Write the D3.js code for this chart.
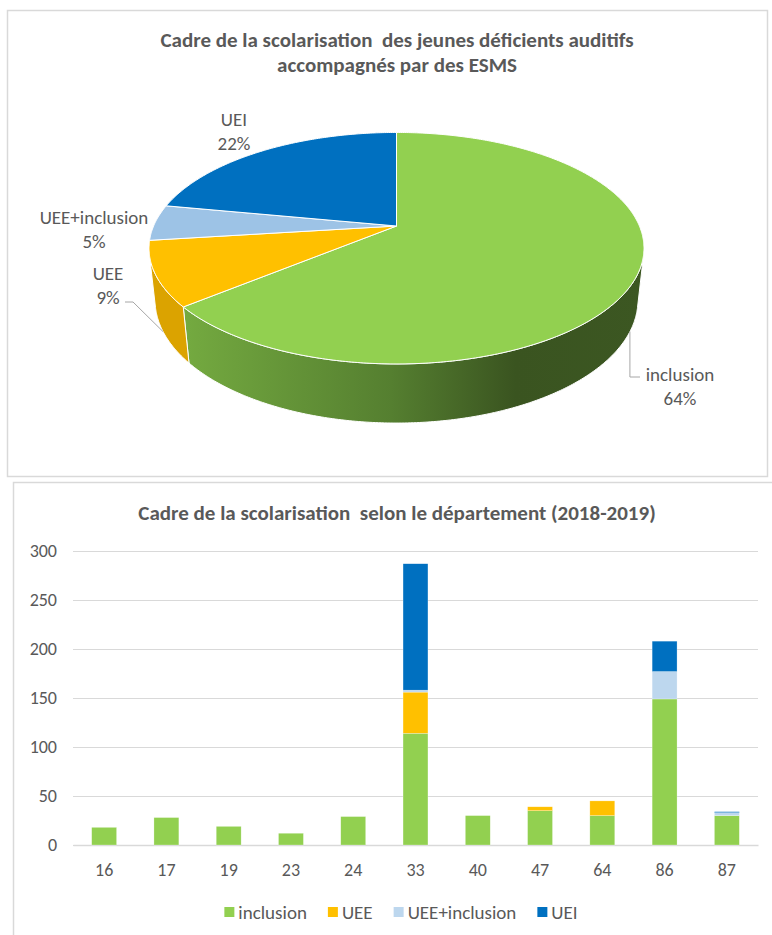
<!DOCTYPE html>
<html>
<head>
<meta charset="utf-8">
<script src="https://cdn.jsdelivr.net/npm/d3@7"></script>
<style>
  body { margin: 0; background: #fff; }
  svg text { font-family: Carlito, "Liberation Sans Narrow", "Arial Narrow", "Liberation Sans", sans-serif; fill: #595959; white-space: pre; }
</style>
</head>
<body>
<svg id="chart" width="772" height="935"></svg>
<script>
// pie data (share in %)
const pieLabels = ["inclusion", "UEE", "UEE+inclusion", "UEI"];
const pieValues = [64, 9, 5, 22];
const pieColors = ["#92D050", "#FFC000", "#9DC3E6", "#0070C0"];

// bar data per departement
const departements = ["16", "17", "19", "23", "24", "33", "40", "47", "64", "86", "87"];
const inclusion = [18, 28, 19, 12, 29, 114, 30, 35, 30, 149, 30];
const uee = [0, 0, 0, 0, 0, 42, 0, 4, 15, 0, 0];
const ueeInclusion = [0, 0, 0, 0, 0, 2, 0, 0, 0, 28, 3];
const uei = [0, 0, 0, 0, 0, 129, 0, 0, 0, 31, 1];
const yTicks = [0, 50, 100, 150, 200, 250, 300];

const seriesKeys = ["inclusion", "UEE", "UEE+inclusion", "UEI"];
const barColors = ["#92D050", "#FFC000", "#BDD7EE", "#0070C0"];

const svg = d3.select('#chart');

// chart frames
svg.append('rect').attr('x', 7.5).attr('y', 10.5).attr('width', 760).attr('height', 466)
  .attr('fill', 'none').attr('stroke', '#D9D9D9').attr('stroke-width', 1.5);
svg.append('rect').attr('x', 13.5).attr('y', 482.5).attr('width', 780).attr('height', 470)
  .attr('fill', 'none').attr('stroke', '#D9D9D9').attr('stroke-width', 1.5);

// ---------- 3D pie ----------
const sinA = 0.459, cosA = 0.888;   // tilt of the pie
const R = 0.216, H = 0.0526, F = 1124.5;
const pcx = 396.5, pcy = 226;

function project(theta, y) {
  const X = R * Math.sin(theta), Z = R * Math.cos(theta);
  const yc = y * cosA + Z * sinA;
  const depth = 1 + Z * cosA - y * sinA;
  return [pcx + F * X / depth, pcy - F * yc / depth];
}
function arcPts(a0, a1, y) {
  const n = Math.max(2, Math.ceil((a1 - a0) / 0.01));
  return d3.range(n + 1).map(i => project(a0 + (a1 - a0) * i / n, y));
}

const arcs = d3.pie().sort(null).value(d => d)(pieValues);
const pie = svg.append('g');

const defs = svg.append('defs');
const grad = defs.append('linearGradient').attr('id', 'sideGreen')
  .attr('gradientUnits', 'userSpaceOnUse').attr('x1', 183).attr('x2', 645).attr('y1', 0).attr('y2', 0);
[[0, '#74AA40'], [0.45, '#557F30'], [0.72, '#3A5420'], [1, '#3C5722']].forEach(s =>
  grad.append('stop').attr('offset', s[0]).attr('stop-color', s[1]));
const sideFill = ['url(#sideGreen)', '#DBA300', '#7FA3C4', '#00589A'];

// visible part of the outer wall
const vis0 = Math.acos(-R / cosA), vis1 = 2 * Math.PI - vis0;
arcs.forEach((a, i) => {
  const s = Math.max(a.startAngle, vis0), e = Math.min(a.endAngle, vis1);
  if (e <= s) return;
  const pts = arcPts(s, e, 0).concat(arcPts(s, e, -H).reverse());
  pie.append('path').attr('d', d3.line()(pts) + 'Z')
    .attr('fill', sideFill[i]).attr('stroke', '#fff').attr('stroke-width', 1);
});

// top faces
arcs.forEach((a, i) => {
  const pts = [[pcx, pcy]].concat(arcPts(a.startAngle, a.endAngle, 0));
  pie.append('path').attr('d', d3.line()(pts) + 'Z')
    .attr('fill', pieColors[i]).attr('stroke', '#fff').attr('stroke-width', 1);
});

// leader lines
const lead = '#A6A6A6';
const inAnchor = project(115 * Math.PI / 180, -H);
pie.append('path').attr('fill', 'none').attr('stroke', lead).attr('stroke-width', 1)
  .attr('d', d3.line()([inAnchor, [inAnchor[0], 377], [640, 377]]));
const ueeAnchor = project(245 * Math.PI / 180, -H);
pie.append('path').attr('fill', 'none').attr('stroke', lead).attr('stroke-width', 1)
  .attr('d', d3.line()([[125, 302], [133, 302], ueeAnchor]));

// pie labels
const pieLabelPos = [[680, 374], [108, 273], [94, 217], [234, 119]];
arcs.forEach((a, i) => {
  const t = pie.append('text').attr('text-anchor', 'middle').style('font-size', '19px');
  t.append('tspan').attr('x', pieLabelPos[i][0]).attr('y', pieLabelPos[i][1] + 6.5).text(pieLabels[i]);
  t.append('tspan').attr('x', pieLabelPos[i][0]).attr('y', pieLabelPos[i][1] + 30.5).text(pieValues[i] + '%');
});

svg.append('text').attr('x', 397).attr('y', 47).attr('text-anchor', 'middle')
  .style('font-size', '21px').style('font-weight', 'bold')
  .text('Cadre de la scolarisation  des jeunes déficients auditifs');
svg.append('text').attr('x', 397).attr('y', 72).attr('text-anchor', 'middle')
  .style('font-size', '21px').style('font-weight', 'bold')
  .text('accompagnés par des ESMS');

// ---------- stacked bars ----------
svg.append('text').attr('x', 397).attr('y', 520).attr('text-anchor', 'middle')
  .style('font-size', '21px').style('font-weight', 'bold')
  .text('Cadre de la scolarisation  selon le département (2018-2019)');

const x = d3.scaleBand().domain(departements).range([73, 758]).paddingInner(0.6).paddingOuter(0.3);
const y = d3.scaleLinear().domain([0, 300]).range([845, 551]);

const rows = departements.map((d, i) => ({
  dep: d, 'inclusion': inclusion[i], 'UEE': uee[i], 'UEE+inclusion': ueeInclusion[i], 'UEI': uei[i]
}));
const stacked = d3.stack().keys(seriesKeys)(rows);

const yAxis = svg.append('g').attr('transform', 'translate(73,0)')
  .call(d3.axisLeft(y).tickValues(yTicks).tickSize(-685).tickPadding(16));
yAxis.select('.domain').remove();
yAxis.selectAll('line').attr('stroke', '#D9D9D9').attr('stroke-width', 1);
yAxis.selectAll('text').style('font-size', '18px').attr('fill', '#595959');

const xAxis = svg.append('g').attr('transform', 'translate(0,845)')
  .call(d3.axisBottom(x).tickSize(0).tickPadding(18));
xAxis.select('.domain').attr('stroke', '#D9D9D9').attr('stroke-width', 1.5);
xAxis.selectAll('text').style('font-size', '18px').attr('fill', '#595959');

svg.append('g').selectAll('g').data(stacked).join('g')
  .attr('fill', (d, i) => barColors[i])
  .selectAll('rect').data(d => d).join('rect')
  .attr('x', d => x(d.data.dep))
  .attr('width', x.bandwidth())
  .attr('y', d => y(d[1]))
  .attr('height', d => Math.max(0, y(d[0]) - y(d[1])))
  .attr('stroke', '#fff').attr('stroke-opacity', 0.5).attr('stroke-width', 0.5);

// legend
const legend = svg.append('g');
const items = legend.selectAll('g').data(seriesKeys).join('g');
items.append('rect').attr('width', 10).attr('height', 10).attr('y', -5)
  .attr('fill', (d, i) => barColors[i]);
items.append('text').attr('x', 14).attr('y', 6.5).style('font-size', '19px').text(d => d);
let offs = 0;
const widths = [];
items.each(function () { widths.push(14 + this.querySelector('text').getComputedTextLength()); });
const gap = 21;
const total = d3.sum(widths) + gap * (widths.length - 1);
items.attr('transform', (d, i) => {
  const tx = 401 - total / 2 + offs;
  offs += widths[i] + gap;
  return `translate(${tx},912)`;
});
</script>
</body>
</html>
